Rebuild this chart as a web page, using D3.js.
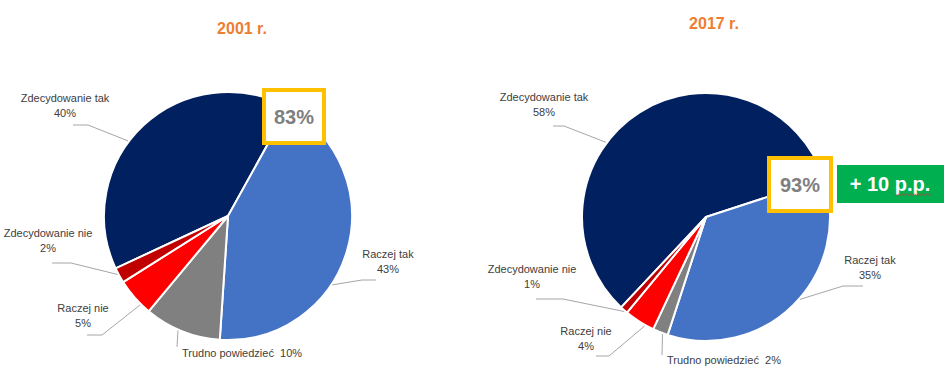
<!DOCTYPE html>
<html>
<head>
<meta charset="utf-8">
<script src="https://cdn.jsdelivr.net/npm/d3@7"></script>
<style>
  body { margin: 0; background: #fff; }
  svg text { font-family: "Liberation Sans", Arial, sans-serif; }
</style>
</head>
<body>
<svg id="chart" width="952" height="375"></svg>
<script>
// data
var categories = ["Zdecydowanie tak", "Raczej tak", "Trudno powiedzieć", "Raczej nie", "Zdecydowanie nie"];
var values2001 = [40, 43, 10, 5, 2];
var values2017 = [58, 35, 2, 4, 1];
var years = ["2001 r.", "2017 r."];
var colors = ["#002060", "#4472C4", "#808080", "#FF0000", "#C00000"];

var svg = d3.select("#chart");
var deg = Math.PI / 180;

// pie placement (first slice angle as set in the original)
var pies = [
  {values: values2001, year: years[0], cx: 228, cy: 216, r: 124, start: -115 * deg, titleX: 242, titleY: 28},
  {values: values2017, year: years[1], cx: 706, cy: 217, r: 124, start: -136.8 * deg, titleX: 714, titleY: 23}
];

// label placement relative to pie centre: text centre, leader elbow, point inside slice (t)
var labelLayout = [
  [
    {tx: -163, ty: -118, h1: -155, h2: -140, hy: -91, t: 0.43},
    {tx: 160, ty: 38, h1: 148, h2: 134, hy: 64, t: 0.61},
    {tx: -46, ty: 137, h1: -51, h2: -51, hy: 131, t: 0.55, inline: true},
    {tx: -145, ty: 92, h1: -141, h2: -126, hy: 119, t: 0.27},
    {tx: -180, ty: 17, h1: -176, h2: -157, hy: 47, t: 0.6}
  ],
  [
    {tx: -162, ty: -120, h1: -153, h2: -142, hy: -91, t: 0.40},
    {tx: 164, ty: 43, h1: 157, h2: 137, hy: 69, t: 0.47},
    {tx: -39, ty: 143, h1: -44, h2: -44, hy: 138, t: 0.33, inline: true},
    {tx: -120, ty: 114, h1: -110, h2: -97, hy: 139, t: 0.29},
    {tx: -174, ty: 52, h1: -170, h2: -143, hy: 82, t: 0.36}
  ]
];

pies.forEach(function(p, pi) {
  var pie = d3.pie().sort(null).value(function(d) { return d; })
    .startAngle(p.start).endAngle(p.start + 2 * Math.PI);
  var arcs = pie(p.values);
  var arc = d3.arc().innerRadius(0).outerRadius(p.r);

  var g = svg.append("g").attr("transform", `translate(${p.cx}, ${p.cy})`);

  g.selectAll("path.slice")
    .data(arcs)
    .enter()
    .append("path")
    .attr("class", "slice")
    .attr("d", arc)
    .attr("fill", function(d, i) { return colors[i]; })
    .attr("stroke", "#fff")
    .attr("stroke-width", 2)
    .attr("stroke-linejoin", "round");

  // leader lines
  arcs.forEach(function(d, i) {
    var L = labelLayout[pi][i];
    var a = d.startAngle + (d.endAngle - d.startAngle) * L.t;
    var ex = Math.sin(a) * (p.r + 1), ey = -Math.cos(a) * (p.r + 1);
    var pts = [[L.h1, L.hy], [L.h2, L.hy], [ex, ey]];
    g.append("path")
      .attr("d", d3.line()(pts))
      .attr("fill", "none")
      .attr("stroke", "#A6A6A6")
      .attr("stroke-width", 1);

    var pct = d.data + "%";
    if (L.inline) {
      g.append("text")
        .attr("x", L.tx).attr("y", L.ty)
        .attr("dy", "0.35em")
        .style("white-space", "pre")
        .style("font-size", "11px")
        .attr("fill", "#404040")
        .text(categories[i] + "  " + pct);
    } else {
      var t = g.append("text")
        .attr("text-anchor", "middle")
        .style("font-size", "11px")
        .attr("fill", "#404040");
      t.append("tspan").attr("x", L.tx).attr("y", L.ty).attr("dy", "0.35em").text(categories[i]);
      t.append("tspan").attr("x", L.tx).attr("y", L.ty + 15).attr("dy", "0.35em").text(pct);
    }
  });

  // title
  svg.append("text")
    .attr("x", p.titleX).attr("y", p.titleY)
    .attr("dy", "0.35em")
    .attr("text-anchor", "middle")
    .style("font-size", "16px")
    .style("font-weight", "bold")
    .attr("fill", "#ED7D31")
    .text(p.year);
});

// share of "tak" answers, boxed
var yes2001 = values2001[0] + values2001[1];
var yes2017 = values2017[0] + values2017[1];
var boxes = [
  {x: 264, y: 90, w: 60, h: 53, text: yes2001 + "%"},
  {x: 769, y: 158, w: 62, h: 53, text: yes2017 + "%"}
];
boxes.forEach(function(b) {
  svg.append("rect")
    .attr("x", b.x).attr("y", b.y).attr("width", b.w).attr("height", b.h)
    .attr("fill", "#fff")
    .attr("stroke", "#FFC000")
    .attr("stroke-width", 4);
  svg.append("text")
    .attr("x", b.x + b.w / 2).attr("y", b.y + b.h / 2)
    .attr("dy", "0.35em")
    .attr("text-anchor", "middle")
    .style("font-size", "20px")
    .style("font-weight", "bold")
    .attr("fill", "#7F7F7F")
    .text(b.text);
});

// change badge
svg.append("rect")
  .attr("x", 837).attr("y", 165).attr("width", 107).attr("height", 38)
  .attr("fill", "#00B050");
var diffText = svg.append("text")
  .attr("x", 890).attr("y", 184)
  .attr("dy", "0.35em")
  .attr("text-anchor", "middle")
  .style("font-size", "20px")
  .style("font-weight", "bold")
  .style("white-space", "pre")
  .attr("fill", "#fff")
  .text("+ " + (yes2017 - yes2001) + " p.p.");

// spell-check squiggle under "p.p."
var node = diffText.node();
var full = node.getComputedTextLength();
var txt = node.textContent;
var startIdx = txt.indexOf("p.p.");
var before = node.getSubStringLength(0, startIdx);
var wLen = node.getSubStringLength(startIdx, 4);
var x0 = 890 - full / 2 + before;
var sq = [];
for (var k = 0; k <= Math.round(wLen / 2); k++) {
  sq.push([x0 + k * 2, 194 + (k % 2 ? 1.2 : 0)]);
}
svg.append("path")
  .attr("d", d3.line()(sq))
  .attr("fill", "none")
  .attr("stroke", "#E03030")
  .attr("stroke-width", 0.8);
</script>
</body>
</html>
